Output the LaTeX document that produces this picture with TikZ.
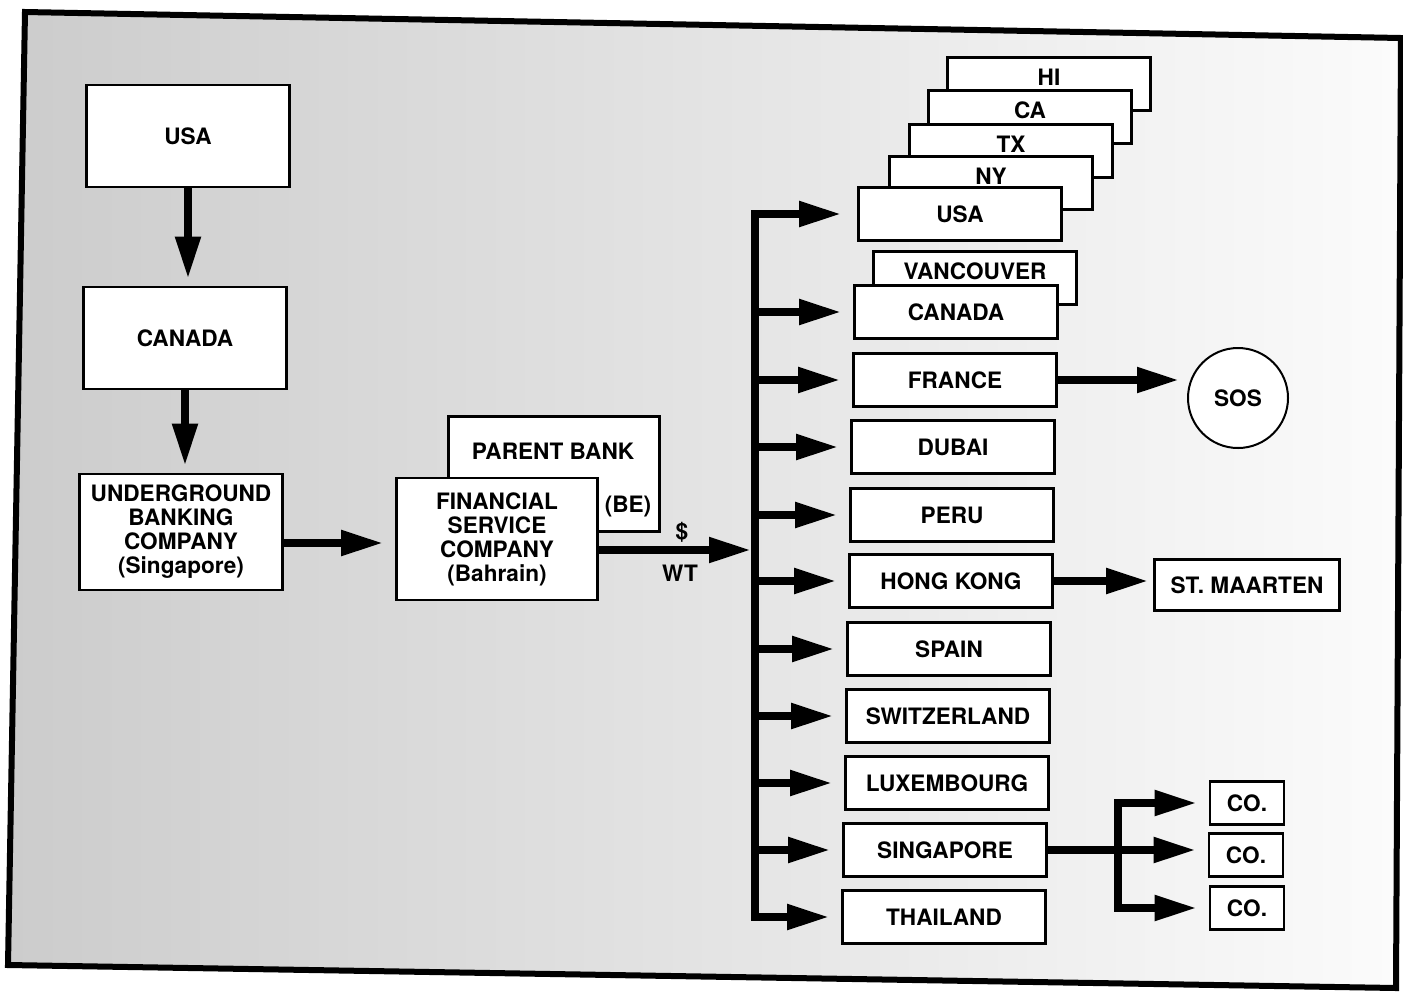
\documentclass[tikz,border=0pt]{standalone}
\usepackage{fontspec}
\setmainfont{TeX Gyre Heros}
\usetikzlibrary{arrows.meta,shapes,positioning}

\begin{document}
\begin{tikzpicture}[
        x=0.5pt, y=-0.5pt,
        every node/.style={font=\fontsize{11.3}{12}\selectfont\bfseries, align=center},
        box/.style={draw, fill=white, line width=1.3pt, minimum width=101.5pt, minimum height=26.5pt, inner sep=1pt},
        backbox/.style={box, text depth=7pt},
        bigbox/.style={box, minimum height=51pt},
        cobox/.style={box, minimum width=37pt, minimum height=21.5pt},
        flow/.style={line width=4pt, -{Triangle[length=21pt,width=12pt]}},
        both/.style={line width=4pt, {Triangle[length=21pt,width=12pt]}-{Triangle[length=21pt,width=12pt]}}
    ]

    \useasboundingbox (0,0) rectangle (1403,992);

    % Frame
    \shadedraw[left color=gray!40, right color=gray!3, line width=3pt]
        (25,12) -- (1401,38) -- (1396,988) -- (8,965) -- cycle;

    % Nodes
    \node (usa) [bigbox] at (188,136) {USA};
    \node (canada) [bigbox] at (185,338) {CANADA};
    \node (ubc) [bigbox, minimum height=58pt] at (181,532) {UNDERGROUND\\BANKING\\COMPANY\\(Singapore)};

    \node (parent) [box, minimum width=105.5pt, minimum height=57.5pt] at (554,474) {};
    \node (parentname) at (553,451) {PARENT BANK};
    \node (be) at (628,507) {(BE)};
    \node (fsc) [box, minimum width=100.5pt, minimum height=61pt] at (497,539) {FINANCIAL\\SERVICE\\COMPANY\\(Bahrain)};
    \node (dollar) at (682,532) {\$};
    \node (wt) at (680,573) {WT};

    \node (hi) [backbox] at (1049,84) {HI};
    \node (ca) [backbox] at (1030,117) {CA};
    \node (tx) [backbox] at (1011,151) {TX};
    \node (ny) [backbox] at (991,183) {NY};
    \node (usab) [box] at (960,214) {USA};
    \node (vancouver) [backbox] at (975,278) {VANCOUVER};
    \node (canadab) [box] at (956,312) {CANADA};
    \node (france) [box] at (955,380) {FRANCE};
    \node (dubai) [box] at (953,447) {DUBAI};
    \node (peru) [box] at (952,515) {PERU};
    \node (hongkong) [box] at (951,581) {HONG KONG};
    \node (spain) [box] at (949,649) {SPAIN};
    \node (switzerland) [box] at (948,716) {SWITZERLAND};
    \node (luxembourg) [box] at (947,783) {LUXEMBOURG};
    \node (singapore) [box] at (945,850) {SINGAPORE};
    \node (thailand) [box] at (944,917) {THAILAND};

    \node (sos) [draw, circle, fill=white, line width=1pt, minimum size=50pt] at (1238,398) {SOS};
    \node (maarten) [box, minimum width=92.5pt, minimum height=25.5pt] at (1247,585) {ST. MAARTEN};
    \node (co1) [cobox] at (1247,803) {CO.};
    \node (co2) [cobox] at (1246,855) {CO.};
    \node (co3) [cobox] at (1247,908) {CO.};

    \coordinate (bus) at (755,0);
    \coordinate (split) at (1118,0);

    % Arrows
    \draw[flow, shorten >=3.5pt] (usa.south) -- (usa.south |- canada.north);
    \draw[flow, shorten >=3.5pt] (canada.south) -- (canada.south |- ubc.north);
    \draw[flow, shorten >=6pt] ([yshift=-5.5pt]ubc.east) -- ([yshift=-5.5pt]ubc.east -| fsc.west);
    \draw[flow, shorten >=2pt] ([yshift=-5.5pt]fsc.east) -- ([yshift=-5.5pt]fsc.east -| bus);

    \draw[both, shorten <=8pt, shorten >=6pt] (usab.west) -- (usab.west -| bus) -- (thailand.west -| bus) -- (thailand.west);
    \foreach \n in {canadab, france, dubai, peru, hongkong, spain, switzerland, luxembourg, singapore}
        \draw[flow, shorten >=6pt] (\n.west -| bus) -- (\n.west);

    \draw[flow, shorten >=4pt] (france.east) -- (france.east -| sos.west);
    \draw[flow, shorten >=2.5pt] (hongkong.east) -- (hongkong.east -| maarten.west);
    \draw[flow, shorten >=6pt] (singapore.east) -- (singapore.east -| co2.west);
    \draw[both, shorten <=6pt, shorten >=6pt] (co1.west) -- (co1.west -| split) -- (co3.west -| split) -- (co3.west);

\end{tikzpicture}
\end{document}
